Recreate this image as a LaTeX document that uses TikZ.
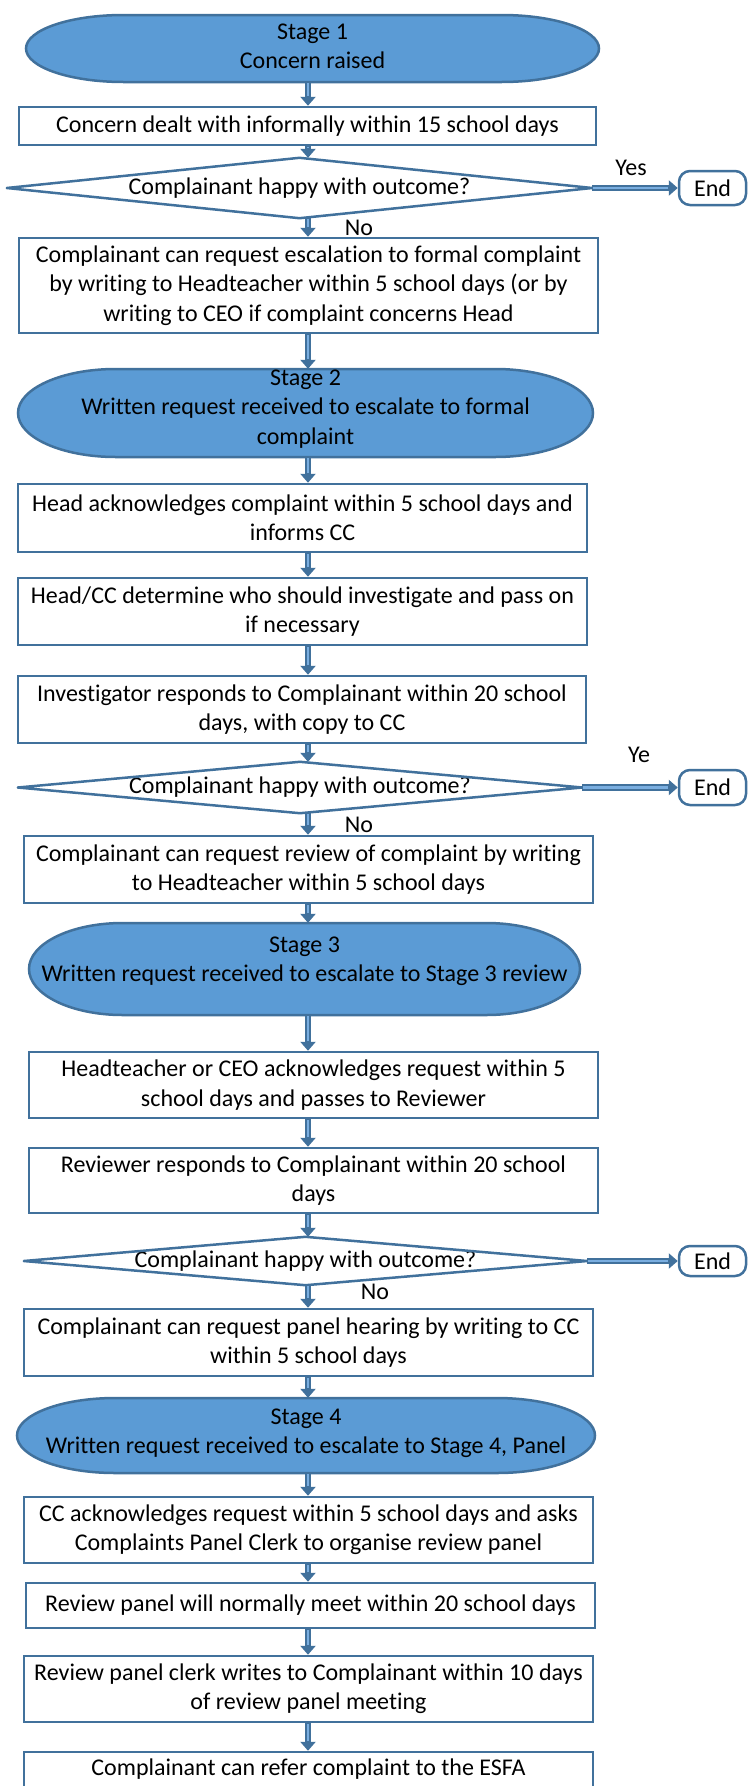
\documentclass[tikz,border=0pt]{standalone}
\usepackage{fontspec}
\setmainfont{Carlito}[Ligatures=NoCommon]
\usetikzlibrary{arrows.meta}
\definecolor{edgeblue}{HTML}{41719C}
\definecolor{fillblue}{HTML}{5B9BD5}
\definecolor{arrowin}{HTML}{7AAEE0}
\newcommand\termshape[4]{%
  \pgfmathsetmacro\trx{0.17*(#2-#1)}%
  \pgfmathsetmacro\try{(#4-#3)/2}%
  \filldraw[termfill] ({#2-\trx},{-#3}) arc[start angle=90,end angle=-90,x radius=\trx,y radius=\try]
    -- ({#1+\trx},{-#4}) arc[start angle=270,end angle=90,x radius=\trx,y radius=\try] -- cycle;}
\tikzset{
  box/.style={draw=edgeblue, line width=2.5pt, fill=white, inner sep=0pt, align=center},
  anchorbox/.style={inner sep=0pt},
  ttext/.style={inner sep=0pt, align=center},
  termfill/.style={fill=fillblue, draw=edgeblue, line width=2.5pt},
  dia/.style={draw=edgeblue, line width=2.5pt, line join=round},
  endbox/.style={draw=edgeblue, line width=2.5pt, rounded corners=11pt, minimum width=67pt, inner sep=0pt},
  arr/.style={draw=edgeblue, line width=6.5pt, -{Triangle[length=9pt,width=15pt]},
    postaction={draw=arrowin, line width=2.6pt, -, shorten >=10pt, shorten <=1pt}},
  lbl/.style={inner sep=0pt}
}
\begin{document}
\begin{tikzpicture}[x=1pt,y=1pt,font=\fontsize{24}{29.3}\selectfont]
\useasboundingbox (0,0) rectangle (748,-1786);
\clip (0,0) rectangle (748,-1786);
\fill[white] (0,0) rectangle (748,-1786);
\coordinate (ax) at (308,0);

% Stage 1
\termshape{26}{599}{15}{82}
\node[anchorbox, minimum width=573pt, minimum height=67pt] (s1) at (312.5,-48.5) {};
\node[ttext] (s1t) at (312.5,-46) {Stage 1\\Concern raised};

\node[box, minimum width=577pt, minimum height=38pt] (b1) at (307.5,-126) {Concern dealt with informally within 15 school days};

\node[ttext, minimum width=585pt, minimum height=60pt] (d1) at (299.5,-188) {Complainant happy with outcome?};
\draw[dia] (d1.west) -- (d1.north) -- (d1.east) -- (d1.south) -- cycle;
\node[endbox, minimum height=34pt] (e1) at (712.5,-188) {End};
\node[lbl] (yes1) at (631,-168) {Yes};
\node[lbl] (no1) at (359,-228) {No};

\node[box, minimum width=579pt, minimum height=95pt] (b2) at (308.5,-285.5) {Complainant can request escalation to formal complaint\\by writing to Headteacher within 5 school days (or by\\writing to CEO if complaint concerns Head};

% Stage 2
\termshape{18}{593}{369}{457}
\node[anchorbox, minimum width=575pt, minimum height=88pt] (s2) at (305.5,-413) {};
\node[ttext] (s2t) at (305.5,-409) {Stage 2\\Written request received to escalate to formal\\complaint};

\node[box, minimum width=569pt, minimum height=68pt] (b3) at (302.5,-518) {Head acknowledges complaint within 5 school days and\\informs CC};
\node[box, minimum width=569pt, minimum height=67pt] (b4) at (302.5,-611.5) {Head/CC determine who should investigate and pass on\\if necessary};
\node[box, minimum width=568pt, minimum height=67pt] (b5) at (302,-709.5) {Investigator responds to Complainant within 20 school\\days, with copy to CC};

\node[ttext, minimum width=564pt, minimum height=51pt] (d2) at (300,-787.5) {Complainant happy with outcome?};
\draw[dia] (d2.west) -- (d2.north) -- (d2.east) -- (d2.south) -- cycle;
\node[endbox, minimum height=35pt] (e2) at (712.5,-787.5) {End};
\node[lbl] (yes2) at (639,-755) {Ye};
\node[lbl] (no2) at (359,-825) {No};

\node[box, minimum width=569pt, minimum height=67pt] (b6) at (308.5,-869.5) {Complainant can request review of complaint by writing\\to Headteacher within 5 school days};

% Stage 3
\termshape{29}{580}{923}{1015}
\node[anchorbox, minimum width=551pt, minimum height=92pt] (s3) at (304.5,-969) {};
\node[ttext] (s3t) at (304.5,-961.5) {Stage 3\\Written request received to escalate to Stage 3 review};

\node[box, minimum width=569pt, minimum height=66pt] (b7) at (313.5,-1085) {Headteacher or CEO acknowledges request within 5\\school days and passes to Reviewer};
\node[box, minimum width=569pt, minimum height=65pt] (b8) at (313.5,-1180.5) {Reviewer responds to Complainant within 20 school\\days};

\node[ttext, minimum width=563pt, minimum height=48pt] (d3) at (305.5,-1261) {Complainant happy with outcome?};
\draw[dia] (d3.west) -- (d3.north) -- (d3.east) -- (d3.south) -- cycle;
\node[endbox, minimum height=30pt] (e3) at (712.5,-1261) {End};
\node[lbl] (no3) at (375,-1292) {No};

\node[box, minimum width=569pt, minimum height=67pt] (b9) at (308.5,-1342.5) {Complainant can request panel hearing by writing to CC\\within 5 school days};

% Stage 4
\termshape{17}{595}{1398}{1473}
\node[anchorbox, minimum width=578pt, minimum height=75pt] (s4) at (306,-1435.5) {};
\node[ttext] (s4t) at (306,-1433.5) {Stage 4\\Written request received to escalate to Stage 4, Panel};

\node[box, minimum width=569pt, minimum height=66pt] (b10) at (308.5,-1530) {CC acknowledges request within 5 school days and asks\\Complaints Panel Clerk to organise review panel};
\node[box, minimum width=569pt, minimum height=45pt] (b11) at (310.5,-1605.5) {Review panel will normally meet within 20 school days};
\node[box, minimum width=569pt, minimum height=66pt] (b12) at (308.5,-1689) {Review panel clerk writes to Complainant within 10 days\\of review panel meeting};
\node[box, minimum width=569pt, text height=23pt, text depth=37pt, anchor=base] (b13) at (308.5,-1775) {Complainant can refer complaint to the ESFA};

% connectors
\foreach \a/\b in {s1/b1, b1/d1, d1/b2, b2/s2, s2/b3, b3/b4, b4/b5, b5/d2, d2/b6, b6/s3, s3/b7, b7/b8, b8/d3, d3/b9, b9/s4, s4/b10, b10/b11, b11/b12, b12/b13}
  \draw[arr] (\a.south -| ax) -- (\b.north -| ax);
\draw[arr] (d1.east) -- (e1.west);
\draw[arr] (d2.east) -- (e2.west);
\draw[arr] (d3.east) -- (e3.west);
\end{tikzpicture}
\end{document}
